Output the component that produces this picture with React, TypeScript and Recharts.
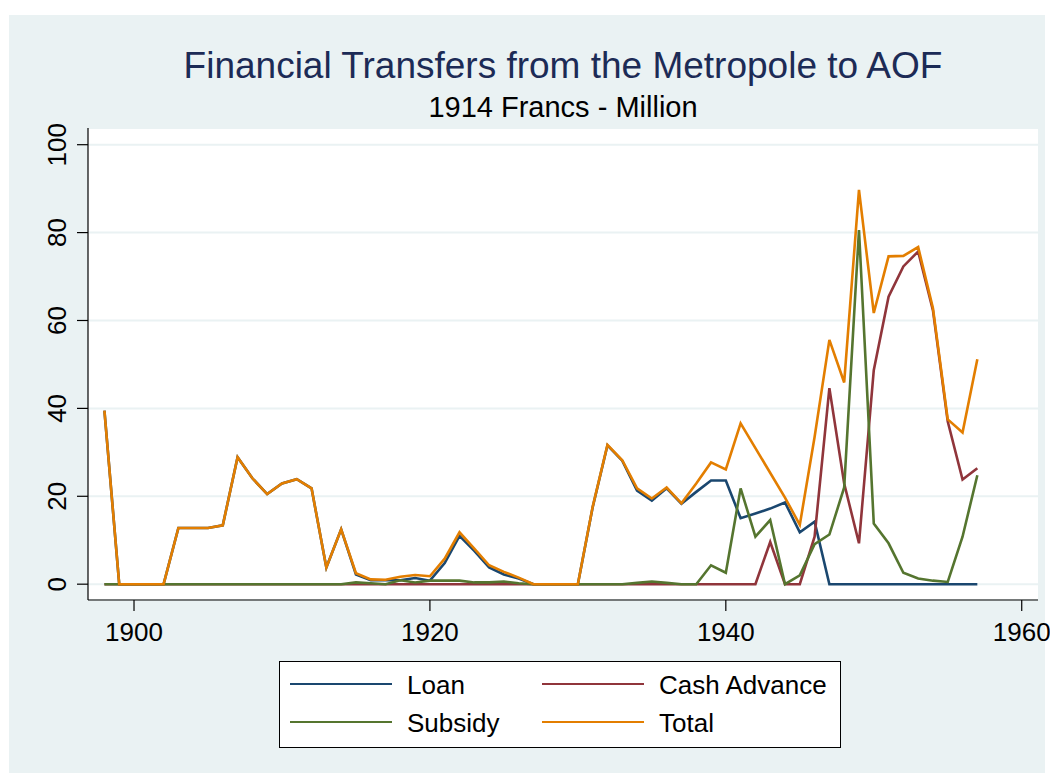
import React from "react";
import { LineChart, Line, XAxis, YAxis, CartesianGrid } from "recharts";

const years = [
  1898, 1899, 1900, 1901, 1902, 1903, 1904, 1905, 1906, 1907,
  1908, 1909, 1910, 1911, 1912, 1913, 1914, 1915, 1916, 1917,
  1918, 1919, 1920, 1921, 1922, 1923, 1924, 1925, 1926, 1927,
  1928, 1929, 1930, 1931, 1932, 1933, 1934, 1935, 1936, 1937,
  1938, 1939, 1940, 1941, 1942, 1943, 1944, 1945, 1946, 1947,
  1948, 1949, 1950, 1951, 1952, 1953, 1954, 1955, 1956, 1957,
];

const loan = [
  39.5, 0, 0, 0, 0, 12.8, 12.8, 12.8, 13.4, 28.9,
  24.1, 20.5, 22.9, 23.9, 21.8, 3.8, 12.5, 2.2, 0.9, 0.9,
  0.9, 1.4, 0.8, 4.8, 11.0, 7.6, 3.8, 2.2, 1.3, 0,
  0, 0, 0, 17.5, 31.6, 28.1, 21.3, 19.0, 21.8, 18.3,
  21.0, 23.6, 23.6, 15.0, 16.1, 17.2, 18.6, 11.8, 14.2, 0,
  0, 0, 0, 0, 0, 0, 0, 0, 0, 0,
];

const cashAdvance = [
  0, 0, 0, 0, 0, 0, 0, 0, 0, 0,
  0, 0, 0, 0, 0, 0, 0, 0, 0, 0,
  0, 0, 0, 0, 0, 0, 0, 0, 0, 0,
  0, 0, 0, 0, 0, 0, 0, 0, 0, 0,
  0, 0, 0, 0, 0, 9.6, 0, 0, 10.8, 44.6,
  22.9, 9.3, 48.7, 65.4, 72.3, 75.7, 62.3, 37.0, 23.8, 26.4,
];

const subsidy = [
  0, 0, 0, 0, 0, 0, 0, 0, 0, 0,
  0, 0, 0, 0, 0, 0, 0, 0.4, 0.2, 0,
  0.9, 0.4, 0.8, 0.8, 0.8, 0.4, 0.4, 0.6, 0.2, 0,
  0, 0, 0, 0, 0, 0, 0.3, 0.6, 0.3, 0,
  0, 4.3, 2.6, 21.8, 10.8, 14.6, 0, 2.0, 9.1, 11.3,
  22.0, 80.6, 13.8, 9.3, 2.6, 1.3, 0.8, 0.5, 10.8, 24.8,
];

const total: (number | null)[] = [
  39.5, 0, 0, 0, 0, 12.8, 12.8, 12.8, 13.4, 28.9,
  24.1, 20.5, 22.9, 23.9, 21.8, 3.8, 12.5, 2.5, 1.1, 1.0,
  1.7, 2.1, 1.8, 5.8, 11.8, 8.1, 4.3, 2.8, 1.5, 0,
  0, 0, 0, 17.6, 31.7, 28.2, 21.8, 19.5, 22.0, 18.4,
  22.9, 27.7, 26.1, 36.6, null, null, 19.7, 13.5, 33.5, 55.6,
  45.9, 89.7, 61.7, 74.6, 74.7, 76.7, 62.8, 37.5, 34.5, 51.2,
];

const xTicks = [1900, 1920, 1940, 1960];
const yTicks = [0, 20, 40, 60, 80, 100];

const seriesNames = ["Loan", "Cash Advance", "Subsidy", "Total"];
const seriesKeys = ["loan", "cash", "subsidy", "total"];
const seriesColors = ["#1A476F", "#90353B", "#55752F", "#E37E00"];

const data = years.map((y, i) => ({
  year: y,
  loan: loan[i],
  cash: cashAdvance[i],
  subsidy: subsidy[i],
  total: total[i],
}));

const FONT = "'Liberation Sans', Arial, Helvetica, sans-serif";

const YTick = (props: any) => {
  const { y, payload } = props;
  return (
    <text
      transform={`translate(66, ${y}) rotate(-90)`}
      textAnchor="middle"
      fontSize={26}
      fontFamily={FONT}
      fill="#000"
    >
      {payload.value}
    </text>
  );
};

const XTick = (props: any) => {
  const { x, payload } = props;
  return (
    <text x={x} y={641} textAnchor="middle" fontSize={26} fontFamily={FONT} fill="#000">
      {payload.value}
    </text>
  );
};

const LegendBox = () => {
  const order = [0, 1, 2, 3];
  return (
    <svg width={562} height={87} style={{ display: "block" }}>
      <rect x={0.5} y={0.5} width={561} height={86} fill="#fff" stroke="#000" strokeWidth={1} />
      {order.map((i) => {
        const col = i % 2;
        const row = Math.floor(i / 2);
        const lx = col === 0 ? 11 : 263;
        const ly = row === 0 ? 23 : 61;
        return (
          <g key={i}>
            <line x1={lx} x2={lx + 102} y1={ly} y2={ly} stroke={seriesColors[i]} strokeWidth={2.2} />
            <text x={lx + 117} y={ly + 9.5} fontSize={26} fontFamily={FONT} fill="#000">
              {seriesNames[i]}
            </text>
          </g>
        );
      })}
    </svg>
  );
};

export default function App() {
  return (
    <div style={{ position: "absolute", left: 0, top: 0, width: 1050, height: 773, background: "#fff" }}>
      <div
        style={{
          position: "absolute",
          left: 9,
          top: 15,
          width: 1036,
          height: 758,
          background: "#EAF2F3",
        }}
      />
      <svg
        width={1050}
        height={130}
        style={{ position: "absolute", left: 0, top: 0 }}
      >
        <text x={563} y={78} textAnchor="middle" fontSize={37} fontFamily={FONT} fill="#1C2B56">
          Financial Transfers from the Metropole to AOF
        </text>
        <text x={563} y={117} textAnchor="middle" fontSize={29} fontFamily={FONT} fill="#000">
          1914 Francs - Million
        </text>
      </svg>
      <div style={{ position: "absolute", left: 0, top: 0 }}>
        <LineChart
          width={1050}
          height={773}
          data={data}
          margin={{ top: 128, right: 12, bottom: 0, left: 28 }}
        >
          <CartesianGrid
            vertical={false}
            horizontal={true}
            stroke="#EAF2F3"
            strokeWidth={2}
            fill="#FFFFFF"
            fillOpacity={1}
          />
          <XAxis
            dataKey="year"
            type="number"
            domain={[1896.89, 1961.1]}
            ticks={xTicks}
            allowDataOverflow
            height={173}
            axisLine={{ stroke: "#000", strokeWidth: 1.2 }}
            tickLine={{ stroke: "#000", strokeWidth: 1.2 }}
            tickSize={11}
            tick={<XTick />}
          />
          <YAxis
            type="number"
            domain={[-3.6, 103.8]}
            ticks={yTicks}
            allowDataOverflow
            width={60}
            axisLine={{ stroke: "#000", strokeWidth: 1.2 }}
            tickLine={{ stroke: "#000", strokeWidth: 1.2 }}
            tickSize={11}
            tick={<YTick />}
          />
          {seriesKeys.map((k, i) => (
            <Line
              key={k}
              type="linear"
              dataKey={k}
              name={seriesNames[i]}
              stroke={seriesColors[i]}
              strokeWidth={2.6}
              dot={false}
              activeDot={false}
              connectNulls
              isAnimationActive={false}
            />
          ))}
        </LineChart>
      </div>
      <div style={{ position: "absolute", left: 279, top: 661 }}>
        <LegendBox />
      </div>
    </div>
  );
}
